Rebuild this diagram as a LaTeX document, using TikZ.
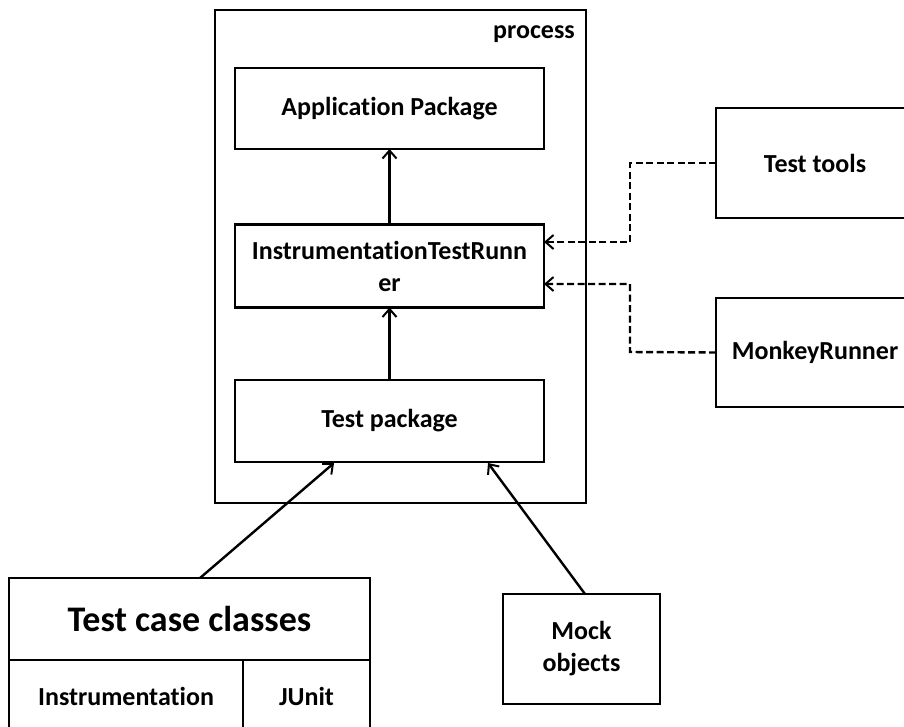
\documentclass[tikz,border=0pt]{standalone}
\usepackage{fontspec}
\setmainfont{Carlito}[Ligatures=NoCommon]
\usetikzlibrary{arrows.meta}
\begin{document}
\begin{tikzpicture}[x=1pt,y=-1pt,
  box/.style={draw,line width=2.4pt,inner sep=0pt,outer sep=0pt,font=\bfseries\fontsize{26}{32}\selectfont,align=center},
  arr/.style={line width=2.4pt,-{Straight Barb[length=8pt,width=14pt,line width=2pt]}},
  darr/.style={arr,dash pattern=on 7pt off 3.5pt}]
\useasboundingbox (0,0) rectangle (904,726);
\clip (0,0) rectangle (904,726);
% outer process frame
\node[box,minimum width=371pt,minimum height=493pt,anchor=north west] (proc) at (215,10) {};
\node[font=\bfseries\fontsize{26}{30}\selectfont,anchor=east,inner sep=0pt] (plabel) at (575,34) {process};
% components inside the process
\node[box,minimum width=309pt,minimum height=81pt] (app) at (389.5,108.5) {Application Package};
\node[box,minimum width=309pt,minimum height=83pt] (itr) at (389.5,266) {InstrumentationTestRunn\\er};
\node[box,minimum width=309pt,minimum height=82pt] (tp) at (389.5,421) {Test package};
% external tools
\node[box,minimum width=198pt,minimum height=110pt] (tools) at (815,163) {Test tools};
\node[box,minimum width=198pt,minimum height=109pt] (monkey) at (815,352.5) {MonkeyRunner};
% test case classes
\node[box,minimum width=361pt,minimum height=82pt,font=\bfseries\fontsize{36}{42}\selectfont] (tcc) at (189.5,619) {Test case classes};
\node[box,minimum width=234pt,minimum height=80pt,anchor=north west] (instr) at (tcc.south west) {\raisebox{8pt}{Instrumentation}};
\node[box,minimum width=127pt,minimum height=80pt,anchor=north west] (junit) at (instr.north east) {\raisebox{8pt}{JUnit}};
% mock objects
\node[box,minimum width=157pt,minimum height=110pt] (mock) at (581.5,649) {Mock\\objects};
% connectors
\draw[arr] (tp.north) -- (itr.south);
\draw[arr] (itr.north) -- (app.south);
\draw[arr] (200,578) -- (334,463);
\draw[arr] (585,594) -- (488,463);
\coordinate (k1) at (630,163);
\coordinate (k2) at (630,352);
\draw[darr] (tools.west) -- (k1) |- (itr.east |- 0,242);
\draw[darr] (monkey.west) -- (k2) |- (itr.east |- 0,284);
\end{tikzpicture}
\end{document}
